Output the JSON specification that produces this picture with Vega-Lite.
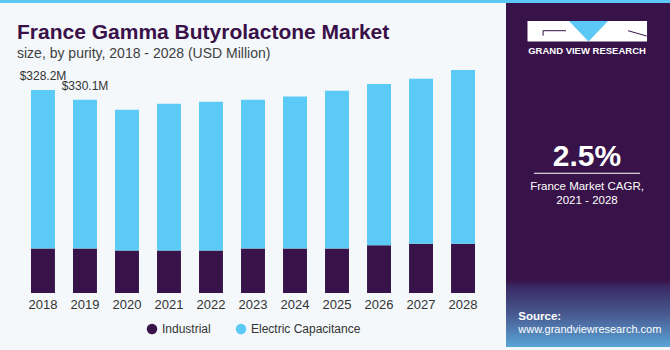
{
  "$schema": "https://vega.github.io/schema/vega-lite/v6.json",
  "background": "#f4f8fb",
  "padding": {"left": 0, "right": 0, "top": 0, "bottom": 3},
  "config": {
    "font": "Liberation Sans",
    "view": {"stroke": null},
    "concat": {"spacing": 0},
    "legend": {"layout": {"bottom": {"anchor": "middle"}}}
  },
  "datasets": {
    "bars": [
      {"year": "2018", "purity": "Industrial", "value": 72.1},
      {"year": "2018", "purity": "Electric Capacitance", "value": 256.1},
      {"year": "2019", "purity": "Industrial", "value": 72.1},
      {"year": "2019", "purity": "Electric Capacitance", "value": 240.4},
      {"year": "2020", "purity": "Industrial", "value": 68.9},
      {"year": "2020", "purity": "Electric Capacitance", "value": 227.4},
      {"year": "2021", "purity": "Industrial", "value": 68.9},
      {"year": "2021", "purity": "Electric Capacitance", "value": 237.1},
      {"year": "2022", "purity": "Industrial", "value": 68.9},
      {"year": "2022", "purity": "Electric Capacitance", "value": 240.4},
      {"year": "2023", "purity": "Industrial", "value": 72.1},
      {"year": "2023", "purity": "Electric Capacitance", "value": 240.4},
      {"year": "2024", "purity": "Industrial", "value": 72.1},
      {"year": "2024", "purity": "Electric Capacitance", "value": 245.7},
      {"year": "2025", "purity": "Industrial", "value": 72.1},
      {"year": "2025", "purity": "Electric Capacitance", "value": 255.0},
      {"year": "2026", "purity": "Industrial", "value": 77.0},
      {"year": "2026", "purity": "Electric Capacitance", "value": 260.9},
      {"year": "2027", "purity": "Industrial", "value": 79.7},
      {"year": "2027", "purity": "Electric Capacitance", "value": 266.8},
      {"year": "2028", "purity": "Industrial", "value": 79.7},
      {"year": "2028", "purity": "Electric Capacitance", "value": 280.8}
    ],
    "labels": [
      {"year": "2018", "total": 328.2, "label": "$328.2M"},
      {"year": "2019", "total": 312.5, "label": "$330.1M"}
    ]
  },
  "resolve": {"scale": {"color": "independent"}, "legend": {"color": "independent"}},
  "vconcat": [
    {
      "width": 670,
      "height": 3,
      "data": {"values": [{"band": "top"}]},
      "mark": {"type": "rect", "color": "#5bc8f5"},
      "encoding": {}
    },
    {
      "resolve": {"scale": {"color": "independent"}, "legend": {"color": "independent"}},
      "hconcat": [
        {
          "width": 506,
          "height": 290,
          "title": {
            "text": "France Gamma Butyrolactone Market",
            "subtitle": "size, by purity, 2018 - 2028 (USD Million)",
            "anchor": "start",
            "frame": "group",
            "orient": "top",
            "offset": -58,
            "dx": 17,
            "font": "Liberation Sans",
            "fontSize": 21,
            "fontWeight": "bold",
            "color": "#3a1048",
            "subtitleFont": "Liberation Sans",
            "subtitleFontSize": 14,
            "subtitleColor": "#404040",
            "subtitlePadding": 4
          },
          "layer": [
            {
              "data": {"name": "bars"},
              "mark": {"type": "bar"},
              "encoding": {
                "x": {
                  "field": "year",
                  "type": "ordinal",
                  "scale": {"paddingInner": 0.43, "paddingOuter": 0.738},
                  "axis": {
                    "title": null,
                    "labelAngle": 0,
                    "ticks": false,
                    "domain": false,
                    "labelFontSize": 13,
                    "labelColor": "#333333",
                    "labelPadding": 5
                  }
                },
                "y": {
                  "field": "value",
                  "type": "quantitative",
                  "stack": "zero",
                  "scale": {"domain": [0, 468.8], "nice": false},
                  "axis": null
                },
                "color": {
                  "field": "purity",
                  "type": "nominal",
                  "scale": {
                    "domain": ["Industrial", "Electric Capacitance"],
                    "range": ["#381349", "#5bcaf6"]
                  },
                  "legend": {
                    "orient": "bottom",
                    "direction": "horizontal",
                    "title": null,
                    "symbolType": "circle",
                    "symbolSize": 110,
                    "symbolStrokeWidth": 0,
                    "labelFontSize": 12,
                    "labelColor": "#333333",
                    "columnPadding": 24,
                    "offset": 12
                  }
                },
                "order": {"field": "purity", "sort": "descending"}
              }
            },
            {
              "data": {"name": "labels"},
              "mark": {
                "type": "text",
                "baseline": "alphabetic",
                "dy": -10,
                "fontSize": 12,
                "color": "#333333"
              },
              "encoding": {
                "x": {"field": "year", "type": "ordinal"},
                "y": {"field": "total", "type": "quantitative"},
                "text": {"field": "label"}
              }
            }
          ]
        },
        {
          "width": 164,
          "height": 344,
          "view": {"fill": "#381349", "stroke": null},
          "layer": [
            {
              "data": {"values": [{"part": "glow"}]},
              "mark": {
                "type": "rect",
                "color": {
                  "gradient": "linear",
                  "x1": 0, "y1": 0, "x2": 0, "y2": 1,
                  "stops": [
                    {"offset": 0, "color": "#381349"},
                    {"offset": 0.12, "color": "#3a2c66"},
                    {"offset": 0.5, "color": "#48588f"},
                    {"offset": 1, "color": "#5aa5d8"}
                  ]
                }
              },
              "encoding": {
                "x": {"datum": 0, "type": "quantitative", "scale": {"domain": [0, 1]}, "axis": null},
                "x2": {"datum": 1},
                "y": {"datum": 0.805, "type": "quantitative", "scale": {"domain": [0, 1], "reverse": true}, "axis": null},
                "y2": {"datum": 1}
              }
            },
            {
              "data": {"values": [{"part": "logo"}]},
              "mark": {"type": "rect", "color": "#ffffff"},
              "encoding": {
                "x": {"datum": 0.131, "type": "quantitative"},
                "x2": {"datum": 0.86},
                "y": {"datum": 0.0523, "type": "quantitative"},
                "y2": {"datum": 0.112}
              }
            },
            {
              "data": {"values": [{"part": "v"}]},
              "mark": {
                "type": "point",
                "shape": "M-1,-0.526L1,-0.526L0,0.526Z",
                "filled": true,
                "opacity": 1,
                "color": "#5bc8f5",
                "size": 1521,
                "strokeWidth": 0
              },
              "encoding": {
                "x": {"datum": 0.503, "type": "quantitative"},
                "y": {"datum": 0.0821, "type": "quantitative"}
              }
            },
            {
              "data": {"values": [{"part": "g"}]},
              "mark": {"type": "rule", "color": "#381349", "strokeWidth": 1},
              "encoding": {
                "x": {"datum": 0.226, "type": "quantitative"},
                "x2": {"datum": 0.366},
                "y": {"datum": 0.0805, "type": "quantitative"},
                "y2": {"datum": 0.0805}
              }
            },
            {
              "data": {"values": [{"part": "g2"}]},
              "mark": {"type": "rule", "color": "#381349", "strokeWidth": 1},
              "encoding": {
                "x": {"datum": 0.226, "type": "quantitative"},
                "x2": {"datum": 0.226},
                "y": {"datum": 0.0805, "type": "quantitative"},
                "y2": {"datum": 0.095}
              }
            },
            {
              "data": {"values": [{"part": "r"}]},
              "mark": {"type": "rule", "color": "#381349", "strokeWidth": 1},
              "encoding": {
                "x": {"datum": 0.744, "type": "quantitative"},
                "x2": {"datum": 0.858},
                "y": {"datum": 0.0805, "type": "quantitative"},
                "y2": {"datum": 0.096}
              }
            },
            {
              "data": {"values": [{"text": "GRAND VIEW RESEARCH"}]},
              "mark": {"type": "text", "color": "#ffffff", "fontSize": 9.5, "fontWeight": "bold", "baseline": "alphabetic"},
              "encoding": {
                "x": {"datum": 0.494, "type": "quantitative"},
                "y": {"datum": 0.149, "type": "quantitative"},
                "text": {"field": "text"}
              }
            },
            {
              "data": {"values": [{"text": "2.5%"}]},
              "mark": {"type": "text", "color": "#ffffff", "fontSize": 30, "fontWeight": "bold", "baseline": "alphabetic"},
              "encoding": {
                "x": {"datum": 0.494, "type": "quantitative"},
                "y": {"datum": 0.4738, "type": "quantitative"},
                "text": {"field": "text"}
              }
            },
            {
              "data": {"values": [{"part": "line"}]},
              "mark": {"type": "rule", "color": "#ffffff", "strokeWidth": 1},
              "encoding": {
                "x": {"datum": 0.171, "type": "quantitative"},
                "x2": {"datum": 0.817},
                "y": {"datum": 0.495, "type": "quantitative"},
                "y2": {"datum": 0.495}
              }
            },
            {
              "data": {"values": [{"text": "France Market CAGR,"}]},
              "mark": {"type": "text", "color": "#ffffff", "fontSize": 11.5, "baseline": "alphabetic"},
              "encoding": {
                "x": {"datum": 0.494, "type": "quantitative"},
                "y": {"datum": 0.5436, "type": "quantitative"},
                "text": {"field": "text"}
              }
            },
            {
              "data": {"values": [{"text": "2021 - 2028"}]},
              "mark": {"type": "text", "color": "#ffffff", "fontSize": 11.5, "baseline": "alphabetic"},
              "encoding": {
                "x": {"datum": 0.494, "type": "quantitative"},
                "y": {"datum": 0.585, "type": "quantitative"},
                "text": {"field": "text"}
              }
            },
            {
              "data": {"values": [{"text": "Source:"}]},
              "mark": {"type": "text", "color": "#ffffff", "fontSize": 11.5, "fontWeight": "bold", "align": "left", "baseline": "alphabetic"},
              "encoding": {
                "x": {"datum": 0.075, "type": "quantitative"},
                "y": {"datum": 0.9215, "type": "quantitative"},
                "text": {"field": "text"}
              }
            },
            {
              "data": {"values": [{"text": "www.grandviewresearch.com"}]},
              "mark": {"type": "text", "color": "#ffffff", "fontSize": 11, "align": "left", "baseline": "alphabetic"},
              "encoding": {
                "x": {"datum": 0.075, "type": "quantitative"},
                "y": {"datum": 0.9585, "type": "quantitative"},
                "text": {"field": "text"}
              }
            }
          ]
        }
      ]
    }
  ]
}
